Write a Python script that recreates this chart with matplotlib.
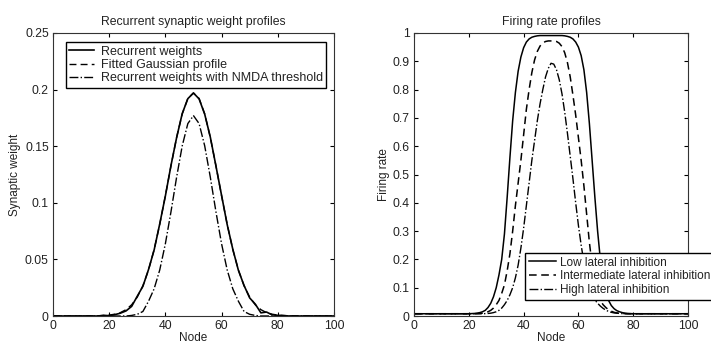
import matplotlib
matplotlib.use("Agg")
import matplotlib.pyplot as plt

plt.rcParams['font.family'] = ['Liberation Sans', 'DejaVu Sans']
plt.rcParams['font.size'] = 8
plt.rcParams['text.color'] = '#222222'
plt.rcParams['axes.labelcolor'] = '#222222'
plt.rcParams['xtick.labelcolor'] = '#222222'
plt.rcParams['ytick.labelcolor'] = '#222222'

# left panel: synaptic weight vs node
w_nodes = [0, 14, 16, 18, 20, 22, 24, 26, 28, 30, 32, 34, 36, 38, 40, 42, 44, 46, 48, 50,
           52, 54, 56, 58, 60, 62, 64, 66, 68, 70, 72, 74, 76, 78, 80, 82, 84, 86, 100]
recurrent = [0, 0, 0, 0.0006, 0.0003, 0.0012, 0.0025, 0.0045, 0.0085, 0.0175, 0.0262, 0.0410,
             0.0583, 0.0814, 0.1060, 0.1330, 0.1575, 0.1788, 0.1920, 0.1970,
             0.1918, 0.1783, 0.1580, 0.1325, 0.1066, 0.0808, 0.0590, 0.0403, 0.0270, 0.0160,
             0.0105, 0.0028, 0.0035, 0.0010, 0.0006, 0.0004, 0, 0, 0]
fitted = [0, 0.0001, 0.0002, 0.0004, 0.0008, 0.0016, 0.0030, 0.0056, 0.0099, 0.0167, 0.0267, 0.0406,
          0.0587, 0.0810, 0.1063, 0.1327, 0.1577, 0.1785, 0.1922, 0.1970,
          0.1922, 0.1785, 0.1577, 0.1327, 0.1063, 0.0810, 0.0587, 0.0406, 0.0267, 0.0167,
          0.0099, 0.0056, 0.0030, 0.0016, 0.0008, 0.0004, 0.0002, 0.0001, 0]
nmda = [0, 0, 0, 0, 0, 0, 0, 0, 0.0005, 0.0015, 0.0040, 0.0130,
        0.0240, 0.0407, 0.0638, 0.0921, 0.1226, 0.1503, 0.1700, 0.1770,
        0.1700, 0.1503, 0.1226, 0.0921, 0.0638, 0.0407, 0.0240, 0.0130, 0.0040, 0.0015,
        0.0005, 0, 0, 0, 0, 0, 0, 0, 0]

# right panel: firing rate vs node
r_nodes = [0, 5, 10, 15, 20, 21, 22, 23, 24, 25, 26, 27, 28, 29, 30, 31, 32, 33, 34, 35,
           36, 37, 38, 39, 40, 41, 42, 43, 44, 45, 46, 47, 48, 49, 50, 51, 52, 53, 54, 55,
           56, 57, 58, 59, 60, 61, 62, 63, 64, 65, 66, 67, 68, 69, 70, 71, 72, 73, 74, 75,
           76, 77, 78, 79, 80, 85, 90, 95, 100]
low_inh = [0.008, 0.008, 0.008, 0.008, 0.008, 0.0085, 0.009, 0.010, 0.012, 0.015, 0.020, 0.030,
           0.045, 0.068, 0.10, 0.145, 0.20, 0.29, 0.42, 0.56,
           0.69, 0.79, 0.865, 0.915, 0.948, 0.968, 0.979, 0.985, 0.988, 0.990, 0.991, 0.991,
           0.991, 0.991, 0.991, 0.991, 0.991, 0.991, 0.991, 0.990,
           0.988, 0.985, 0.979, 0.968, 0.950, 0.920, 0.870, 0.790, 0.680, 0.550, 0.420, 0.300,
           0.200, 0.130, 0.085, 0.055, 0.037, 0.026, 0.019, 0.015,
           0.012, 0.010, 0.009, 0.0085, 0.008, 0.008, 0.008, 0.008, 0.008]
mid_inh = [0.008, 0.008, 0.008, 0.008, 0.008, 0.008, 0.008, 0.0085, 0.009, 0.010, 0.012, 0.015,
           0.020, 0.028, 0.040, 0.055, 0.080, 0.110, 0.160, 0.220,
           0.300, 0.390, 0.470, 0.550, 0.640, 0.730, 0.800, 0.860, 0.905, 0.935, 0.954, 0.965,
           0.970, 0.972, 0.972, 0.972, 0.970, 0.964, 0.952, 0.930,
           0.895, 0.845, 0.780, 0.710, 0.630, 0.550, 0.460, 0.360, 0.260, 0.180, 0.120, 0.080,
           0.055, 0.040, 0.030, 0.022, 0.017, 0.013, 0.011, 0.010,
           0.009, 0.0085, 0.008, 0.008, 0.008, 0.008, 0.008, 0.008, 0.008]
high_inh = [0.008, 0.008, 0.008, 0.008, 0.008, 0.008, 0.008, 0.008, 0.008, 0.008, 0.0085, 0.009,
            0.010, 0.012, 0.015, 0.020, 0.028, 0.040, 0.055, 0.075,
            0.100, 0.135, 0.180, 0.240, 0.310, 0.390, 0.470, 0.550, 0.620, 0.690, 0.750, 0.800,
            0.845, 0.875, 0.893, 0.890, 0.870, 0.835, 0.785, 0.720,
            0.645, 0.565, 0.485, 0.400, 0.320, 0.250, 0.190, 0.140, 0.100, 0.075, 0.057, 0.045,
            0.035, 0.027, 0.021, 0.016, 0.013, 0.011, 0.010, 0.009,
            0.0085, 0.008, 0.008, 0.008, 0.008, 0.008, 0.008, 0.008, 0.008]

fig = plt.figure(figsize=(7.11, 3.43), dpi=100)
ax1 = fig.add_axes([0.0745, 0.0787, 0.3952, 0.8251])
ax2 = fig.add_axes([0.5823, 0.0787, 0.3854, 0.8251])

ax1.plot(w_nodes, fitted, color='black', lw=1, ls=(0, (5, 3)), label='Fitted Gaussian profile')
ax1.plot(w_nodes, recurrent, color='black', lw=1.2, label='Recurrent weights')
ax1.plot(w_nodes, nmda, color='black', lw=1, ls='-.', label='Recurrent weights with NMDA threshold')
h, l = ax1.get_legend_handles_labels()
order = [1, 0, 2]
leg1 = ax1.legend([h[i] for i in order], [l[i] for i in order], loc='upper left',
                  bbox_to_anchor=(0.045, 0.968), fancybox=False, edgecolor='black', framealpha=1,
                  handlelength=2.0, labelspacing=0.1, borderpad=0.3, handletextpad=0.5,
                  borderaxespad=0, fontsize=9)
leg1.get_frame().set_linewidth(1.0)
ax1.set_xlim(0, 100)
ax1.set_ylim(0, 0.25)
ax1.set_yticks([0, 0.05, 0.1, 0.15, 0.2, 0.25])
ax1.set_yticklabels(['0', '0.05', '0.1', '0.15', '0.2', '0.25'])
ax1.set_title('Recurrent synaptic weight profiles', fontsize=8.8, pad=6)
ax1.set_xlabel('Node', labelpad=0, fontsize=8.5)
ax1.set_ylabel('Synaptic weight', labelpad=3, fontsize=8.5)

ax2.plot(r_nodes, low_inh, color='black', lw=1.1, label='Low lateral inhibition')
ax2.plot(r_nodes, mid_inh, color='black', lw=1.1, ls=(0, (5, 3)), label='Intermediate lateral inhibition')
ax2.plot(r_nodes, high_inh, color='black', lw=1, ls='-.', label='High lateral inhibition')
leg2 = ax2.legend(loc='upper left', bbox_to_anchor=(0.405, 0.2226), fancybox=False, edgecolor='black',
                  framealpha=1, handlelength=2.3, labelspacing=0.15, borderpad=0.3, handletextpad=0.4,
                  borderaxespad=0, fontsize=8.5)
leg2.get_frame().set_linewidth(1.0)
leg2.set_clip_on(False)
ax2.set_xlim(0, 100)
ax2.set_ylim(0, 1)
ax2.set_yticks([0, 0.1, 0.2, 0.3, 0.4, 0.5, 0.6, 0.7, 0.8, 0.9, 1])
ax2.set_yticklabels(['0', '0.1', '0.2', '0.3', '0.4', '0.5', '0.6', '0.7', '0.8', '0.9', '1'])
ax2.set_title('Firing rate profiles', fontsize=8.8, pad=6)
ax2.set_xlabel('Node', labelpad=0, fontsize=8.5)
ax2.set_ylabel('Firing rate', labelpad=2, fontsize=8.5)

for ax in (ax1, ax2):
    ax.set_xticks([0, 20, 40, 60, 80, 100])
    ax.tick_params(direction='in', top=True, right=True, length=3, width=0.8, labelsize=8.8, pad=3)
    for s in ax.spines.values():
        s.set_linewidth(0.8)
        s.set_color('#333333')

fig.savefig('out.png', dpi=100)
